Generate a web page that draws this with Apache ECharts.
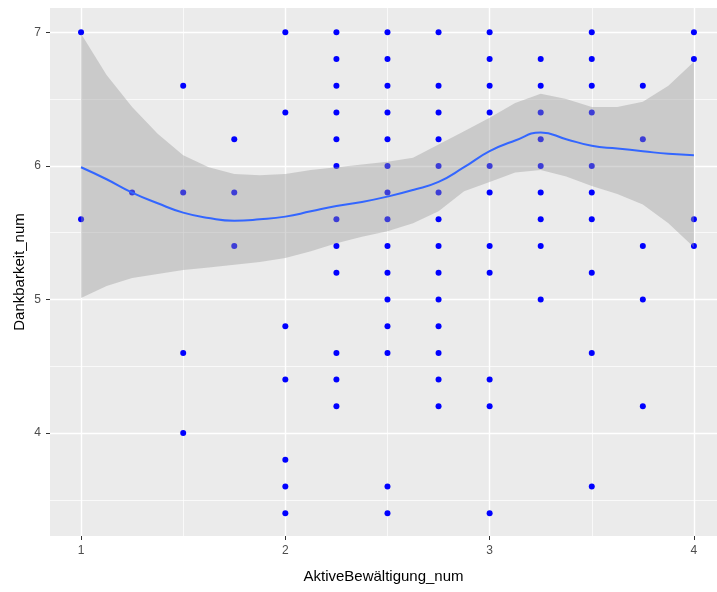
<!DOCTYPE html>
<html>
<head>
<meta charset="utf-8">
<script src="https://cdn.jsdelivr.net/npm/echarts@6/dist/echarts.min.js"></script>
<style>html,body{margin:0;padding:0;background:#fff}#c{width:717px;height:592px}</style>
</head>
<body>
<div id="c"></div>
<script>
// ---- data ----
const xCols = [1, 1.25, 1.5, 1.75, 2, 2.25, 2.5, 2.75, 3, 3.25, 3.5, 3.75, 4];
const yByCol = [
  [7, 5.6],
  [5.8],
  [6.6, 5.8, 4.6, 4.0],
  [6.2, 5.8, 5.4],
  [7, 6.4, 4.8, 4.4, 3.8, 3.6, 3.4],
  [7, 6.8, 6.6, 6.4, 6.2, 6.0, 5.6, 5.4, 5.2, 4.6, 4.4, 4.2],
  [7, 6.8, 6.6, 6.4, 6.2, 6.0, 5.8, 5.6, 5.4, 5.2, 5.0, 4.8, 4.6, 3.6, 3.4],
  [7, 6.6, 6.4, 6.2, 6.0, 5.8, 5.6, 5.4, 5.2, 5.0, 4.8, 4.6, 4.4, 4.2],
  [7, 6.8, 6.6, 6.4, 6.0, 5.8, 5.4, 5.2, 4.4, 4.2, 3.4],
  [6.8, 6.6, 6.4, 6.2, 6.0, 5.8, 5.6, 5.4, 5.0],
  [7, 6.8, 6.6, 6.4, 6.0, 5.8, 5.6, 5.2, 4.6, 3.6],
  [6.6, 6.2, 5.4, 5.0, 4.2],
  [7, 6.8, 5.6, 5.4]
];
const smoothX = [1, 1.125, 1.25, 1.375, 1.5, 1.625, 1.75, 1.875, 2, 2.125, 2.25, 2.375, 2.5,
  2.625, 2.75, 2.875, 3, 3.125, 3.25, 3.375, 3.5, 3.625, 3.75, 3.875, 4];
const smoothFit = [5.99, 5.90, 5.80, 5.72, 5.65, 5.61, 5.59, 5.60, 5.62, 5.66, 5.70, 5.73, 5.77,
  5.82, 5.88, 5.99, 6.11, 6.19, 6.25, 6.20, 6.15, 6.13, 6.11, 6.09, 6.08];
const smoothUpper = [6.99, 6.68, 6.44, 6.24, 6.08, 5.99, 5.94, 5.93, 5.94, 5.97, 5.99, 6.01, 6.03,
  6.06, 6.16, 6.26, 6.36, 6.47, 6.54, 6.50, 6.44, 6.44, 6.48, 6.60, 6.78];
const smoothLower = [5.01, 5.10, 5.16, 5.19, 5.22, 5.24, 5.26, 5.28, 5.31, 5.36, 5.42, 5.47, 5.51,
  5.57, 5.66, 5.81, 5.88, 5.95, 5.97, 5.92, 5.85, 5.79, 5.71, 5.57, 5.39];
const xTicks = [1, 2, 3, 4];
const yTicks = [4, 5, 6, 7];
const xMinor = [1.5, 2.5, 3.5];
const yMinor = [3.5, 4.5, 5.5, 6.5];
const xTitle = 'AktiveBewältigung_num';
const yTitle = 'Dankbarkeit_num';

// ---- build ----
const points = [];
xCols.forEach((x, i) => yByCol[i].forEach(y => points.push([x, y])));
const fitLine = smoothX.map((x, i) => [x, smoothFit[i]]);

const FONT = 'Liberation Sans, Arial, sans-serif';
const chart = echarts.init(document.getElementById('c'), null, {renderer: 'canvas'});
chart.setOption({
  animation: false,
  backgroundColor: '#ffffff',
  grid: {left: 50, top: 8, right: 0, bottom: 56, show: true, backgroundColor: '#EBEBEB', borderWidth: 0},
  xAxis: {
    type: 'value', min: 0.848, max: 4.113,
    name: xTitle, nameLocation: 'middle', nameGap: 33,
    nameTextStyle: {fontFamily: FONT, fontSize: 15, color: '#000'},
    axisLine: {show: false},
    axisTick: {show: true, length: 4, customValues: xTicks, lineStyle: {color: '#333', width: 1}},
    axisLabel: {customValues: xTicks, margin: 9, fontFamily: FONT, fontSize: 12, color: '#4D4D4D'},
    splitLine: {show: true, lineStyle: {color: '#ffffff', width: 1.4}}
  },
  yAxis: {
    type: 'value', min: 3.229, max: 7.182,
    name: yTitle, nameLocation: 'middle', nameGap: 23, nameMoveOverlap: false,
    nameTextStyle: {fontFamily: FONT, fontSize: 15, color: '#000'},
    axisLine: {show: false},
    axisTick: {show: true, length: 4, customValues: yTicks, lineStyle: {color: '#333', width: 1}},
    axisLabel: {customValues: yTicks, margin: 9, fontFamily: FONT, fontSize: 12, color: '#4D4D4D'},
    splitLine: {show: true, lineStyle: {color: '#ffffff', width: 1.4}}
  },
  series: [
    {
      type: 'line', data: [], z: 1, silent: true,
      markLine: {
        silent: true, symbol: 'none', animation: false, z: 1,
        label: {show: false},
        lineStyle: {color: '#ffffff', width: 0.7, type: 'solid'},
        data: xMinor.map(v => ({xAxis: v})).concat(yMinor.map(v => ({yAxis: v})))
      }
    },
    {
      type: 'scatter', data: points, z: 2, symbol: 'circle', symbolSize: 6,
      itemStyle: {color: '#0000FF', opacity: 1}
    },
    {
      type: 'custom', z: 3, data: [[smoothX[0], smoothFit[0]]], silent: true,
      renderItem: function (params, api) {
        const pts = [];
        for (let i = 0; i < smoothX.length; i++) pts.push(api.coord([smoothX[i], smoothUpper[i]]));
        for (let i = smoothX.length - 1; i >= 0; i--) pts.push(api.coord([smoothX[i], smoothLower[i]]));
        return {type: 'polygon', shape: {points: pts}, style: {fill: 'rgba(153,153,153,0.4)'}};
      }
    },
    {
      type: 'line', data: fitLine, z: 4, smooth: true, showSymbol: false, symbol: 'none',
      lineStyle: {color: '#3366FF', width: 2}
    }
  ]
});
</script>
</body>
</html>
